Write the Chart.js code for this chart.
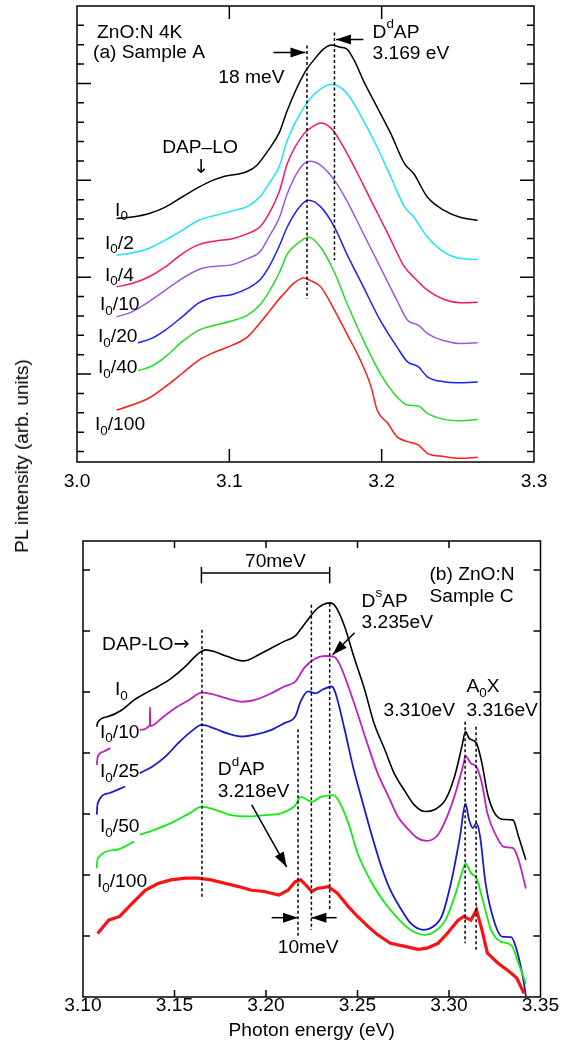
<!DOCTYPE html>
<html>
<head>
<meta charset="utf-8">
<script src="https://cdn.jsdelivr.net/npm/chart.js@4.4.0/dist/chart.umd.min.js"></script>
<style>
  html, body { margin: 0; padding: 0; background: #fff; }
  body { width: 571px; height: 1049px; position: relative; overflow: hidden; font-family: "Liberation Sans", Arial, sans-serif; }
  #topChart { position: absolute; left: 0; top: 0; }
  #botChart { position: absolute; left: 0; top: 505px; }
  #yTitle { position: absolute; left: 22px; top: 456px; transform: translate(-50%, -50%) rotate(-90deg); font-size: 19px; white-space: nowrap; color: #000; }
</style>
</head>
<body>
<canvas id="topChart" width="571" height="505"></canvas>
<canvas id="botChart" width="571" height="544"></canvas>
<div id="yTitle">PL intensity (arb. units)</div>
<script>
// ---- (a) Sample A : [photon energy eV, intensity (offset, arb.)] ----
const topI0 = [[3.026,8.03],[3.036,8.11],[3.047,8.28],[3.058,8.62],[3.069,9.14],[3.080,9.65],[3.089,10.0],[3.097,10.21],[3.111,10.43],[3.118,10.77],[3.126,11.6],[3.133,12.5],[3.138,13.61],[3.149,15.5],[3.156,16.27],[3.162,16.79],[3.167,16.99],[3.173,16.87],[3.177,16.79],[3.182,16.19],[3.188,15.15],[3.197,13.78],[3.206,12.41],[3.215,10.86],[3.221,10.35],[3.230,9.14],[3.241,8.45],[3.252,8.08],[3.263,7.94]];
const topI0_2 = [[3.026,6.13],[3.036,6.25],[3.047,6.48],[3.058,6.91],[3.069,7.42],[3.080,7.94],[3.091,8.20],[3.102,8.42],[3.112,8.66],[3.120,9.14],[3.126,9.83],[3.133,10.77],[3.138,12.06],[3.149,13.78],[3.156,14.47],[3.164,14.90],[3.168,14.95],[3.174,14.73],[3.179,14.3],[3.188,13.09],[3.197,11.72],[3.206,10.17],[3.215,8.63],[3.221,8.11],[3.230,7.08],[3.241,6.3],[3.252,5.96],[3.263,5.91]];
const topI0_4 = [[3.026,4.50],[3.036,4.67],[3.047,5.01],[3.058,5.53],[3.069,6.21],[3.080,6.68],[3.091,6.87],[3.102,6.99],[3.112,7.25],[3.120,7.59],[3.126,8.28],[3.133,9.48],[3.138,10.86],[3.149,12.41],[3.156,12.84],[3.160,12.96],[3.167,12.67],[3.173,11.99],[3.182,10.69],[3.193,8.97],[3.204,7.25],[3.215,5.53],[3.221,5.01],[3.230,4.33],[3.241,3.85],[3.252,3.68],[3.263,3.71]];
const topI0_10 = [[3.026,2.95],[3.036,3.21],[3.047,3.73],[3.058,4.33],[3.069,4.93],[3.080,5.40],[3.091,5.57],[3.102,5.65],[3.112,5.96],[3.120,6.3],[3.126,7.08],[3.133,8.11],[3.138,9.31],[3.147,10.69],[3.153,10.98],[3.160,10.77],[3.169,10.0],[3.177,8.97],[3.188,7.25],[3.199,5.53],[3.210,3.81],[3.217,2.78],[3.224,2.53],[3.230,2.10],[3.241,1.72],[3.252,1.58],[3.263,1.61]];
const topI0_20 = [[3.040,1.61],[3.049,1.84],[3.058,2.27],[3.069,2.95],[3.080,3.68],[3.091,3.99],[3.102,4.11],[3.112,4.42],[3.120,4.85],[3.126,5.53],[3.133,6.65],[3.138,7.59],[3.147,8.71],[3.152,8.97],[3.160,8.63],[3.169,7.59],[3.177,6.22],[3.188,4.5],[3.199,2.78],[3.210,1.4],[3.217,0.63],[3.224,0.38],[3.230,-0.14],[3.241,-0.40],[3.252,-0.45],[3.263,-0.41]];
const topI0_40 = [[3.040,0.17],[3.049,0.41],[3.058,0.89],[3.069,1.67],[3.080,2.27],[3.091,2.53],[3.102,2.75],[3.112,3.04],[3.120,3.56],[3.126,4.24],[3.133,5.27],[3.138,6.19],[3.147,6.87],[3.152,7.08],[3.160,6.53],[3.169,5.24],[3.177,3.69],[3.188,1.75],[3.199,0.04],[3.210,-1.17],[3.217,-1.6],[3.224,-1.65],[3.230,-2.03],[3.241,-2.34],[3.252,-2.41],[3.263,-2.34]];
const topI0_100 = [[3.026,-1.86],[3.036,-1.60],[3.047,-1.25],[3.058,-0.65],[3.069,0.03],[3.080,0.72],[3.091,1.15],[3.102,1.49],[3.112,1.92],[3.119,2.53],[3.126,3.21],[3.132,3.81],[3.136,4.16],[3.142,4.67],[3.149,4.96],[3.153,4.84],[3.160,4.5],[3.169,3.3],[3.177,2.1],[3.186,0.72],[3.193,-0.65],[3.197,-1.86],[3.204,-2.54],[3.210,-3.23],[3.217,-3.49],[3.224,-3.66],[3.230,-4.09],[3.241,-4.26],[3.252,-4.35],[3.263,-4.3]];
const topDashA = [[3.151,16.96],[3.151,3.87]];
const topDashB = [[3.169,17.63],[3.169,5.88]];

const topXLabels = [3.0, 3.1, 3.2, 3.3];
const topXTicks = [3.1, 3.2];
const topYTicks = [-4,-3,-2,-1,0,1,2,3,4,5,6,7,8,9,10,11,12,13,14,15,16,17,18];
const topYMajor = [0, 5, 10, 15];

// ---- (b) Sample C ----
const botI0 = [[3.1075,4.43],[3.108,4.50],[3.114,4.60],[3.121,4.70],[3.128,4.87],[3.136,5.01],[3.141,5.09],[3.148,5.22],[3.156,5.42],[3.163,5.63],[3.167,5.69],[3.172,5.66],[3.179,5.58],[3.187,5.51],[3.190,5.52],[3.196,5.61],[3.203,5.72],[3.210,5.83],[3.216,5.92],[3.220,6.07],[3.224,6.23],[3.227,6.34],[3.231,6.43],[3.235,6.46],[3.238,6.40],[3.243,6.07],[3.248,5.58],[3.254,5.03],[3.259,4.49],[3.265,4.05],[3.270,3.67],[3.276,3.37],[3.281,3.15],[3.287,3.04],[3.292,3.07],[3.298,3.23],[3.303,3.61],[3.307,4.10],[3.309,4.35],[3.311,4.24],[3.315,4.16],[3.318,3.83],[3.321,3.34],[3.325,3.01],[3.330,2.91],[3.335,2.90],[3.338,2.63],[3.342,2.25]];
const botI0_10 = [[3.1075,3.80],[3.108,3.93],[3.111,4.02],[3.115,4.08],[3.120,null],[3.131,4.38],[3.1365,4.46],[3.1366,4.75],[3.1368,4.44],[3.143,4.57],[3.150,4.73],[3.158,4.87],[3.165,4.99],[3.170,4.97],[3.178,4.90],[3.187,4.84],[3.194,4.87],[3.203,4.98],[3.210,5.09],[3.216,5.17],[3.221,5.40],[3.227,5.55],[3.232,5.59],[3.237,5.58],[3.240,5.47],[3.245,5.09],[3.250,4.65],[3.256,4.10],[3.261,3.67],[3.267,3.28],[3.272,2.96],[3.278,2.74],[3.283,2.60],[3.288,2.56],[3.294,2.66],[3.299,2.96],[3.304,3.39],[3.308,3.83],[3.309,3.95],[3.312,3.83],[3.315,3.77],[3.318,3.50],[3.321,3.01],[3.326,2.63],[3.330,2.46],[3.335,2.44],[3.338,2.25],[3.342,1.78]];
const botI0_25 = [[3.1075,2.99],[3.108,3.17],[3.114,3.34],[3.123,3.45],[3.127,null],[3.131,3.67],[3.138,3.78],[3.145,3.94],[3.152,4.16],[3.159,4.35],[3.165,4.46],[3.172,4.40],[3.179,4.32],[3.187,4.27],[3.194,4.30],[3.203,4.38],[3.210,4.49],[3.216,4.60],[3.219,4.85],[3.223,5.01],[3.227,4.98],[3.231,5.04],[3.236,5.09],[3.238,4.98],[3.243,4.38],[3.248,3.72],[3.252,3.28],[3.258,2.63],[3.263,2.14],[3.268,1.75],[3.274,1.43],[3.279,1.21],[3.286,1.10],[3.290,1.13],[3.296,1.32],[3.301,1.86],[3.306,2.63],[3.309,3.17],[3.311,2.90],[3.313,2.77],[3.315,2.85],[3.317,2.63],[3.320,1.86],[3.325,1.21],[3.329,0.99],[3.334,0.98],[3.337,0.77],[3.341,0.22],[3.342,0.01]];
const botI0_50 = [[3.1075,2.11],[3.108,2.27],[3.118,2.41],[3.128,2.55],[3.129,null],[3.131,2.66],[3.139,2.74],[3.148,2.85],[3.158,3.01],[3.165,3.12],[3.172,3.07],[3.181,2.98],[3.190,2.96],[3.199,2.98],[3.208,3.01],[3.216,3.14],[3.219,3.28],[3.225,3.20],[3.230,3.28],[3.237,3.31],[3.240,3.20],[3.245,2.85],[3.250,2.36],[3.258,1.86],[3.265,1.54],[3.272,1.29],[3.279,1.10],[3.287,1.02],[3.292,1.07],[3.298,1.26],[3.303,1.64],[3.307,2.03],[3.309,2.19],[3.312,2.03],[3.315,1.95],[3.318,1.64],[3.323,1.10],[3.328,0.91],[3.334,0.85],[3.338,0.55],[3.342,0.22]];
const botI0_100 = [[3.108,1.04],[3.114,1.26],[3.120,1.32],[3.127,1.54],[3.134,1.75],[3.141,1.86],[3.148,1.92],[3.156,1.95],[3.163,1.95],[3.170,1.92],[3.178,1.86],[3.185,1.81],[3.192,1.75],[3.199,1.73],[3.207,1.67],[3.212,1.75],[3.216,1.89],[3.219,1.92],[3.221,1.86],[3.225,1.73],[3.228,1.78],[3.234,1.81],[3.239,1.70],[3.245,1.48],[3.250,1.32],[3.256,1.15],[3.261,1.02],[3.268,0.88],[3.276,0.83],[3.283,0.78],[3.288,0.80],[3.294,0.88],[3.299,1.04],[3.305,1.26],[3.308,1.32],[3.312,1.26],[3.315,1.43],[3.318,1.10],[3.321,0.72],[3.327,0.55],[3.332,0.44],[3.337,0.31],[3.341,0.06]];
const botDashes = [
  [[3.165,6.02],[3.165,1.62]],
  [[3.2175,4.39],[3.2175,0.99]],
  [[3.2248,6.43],[3.2248,1.10]],
  [[3.2348,6.45],[3.2348,1.43]],
  [[3.3088,4.51],[3.3088,0.88]],
  [[3.3148,4.43],[3.3148,0.77]]
];

const botXLabels = [3.10, 3.15, 3.20, 3.25, 3.30, 3.35];
const botXTicks = [3.15, 3.20, 3.25, 3.30];
const botYTicks = [1, 2, 3, 4, 5, 6, 7];

// ---- annotations (data coordinates) ----
const topLabels = [
  {text: 'ZnO:N 4K', x: 3.0132, y: 17.63},
  {text: '(a) Sample A', x: 3.0105, y: 16.6},
  {text: '18 meV', x: 3.0928, y: 15.31},
  {text: 'DAP\u2013LO', x: 3.0559, y: 11.7},
  {text: '\u2193', x: 3.0761, y: 10.62},
  {text: 'I_0', x: 3.025, y: 8.45},
  {text: 'I_0/2', x: 3.0184, y: 6.75},
  {text: 'I_0/4', x: 3.0184, y: 5.1},
  {text: 'I_0/10', x: 3.0151, y: 3.56},
  {text: 'I_0/20', x: 3.0138, y: 1.91},
  {text: 'I_0/40', x: 3.0138, y: 0.31},
  {text: 'I_0/100', x: 3.0118, y: -2.63},
  {text: 'D^dAP', x: 3.194, y: 17.63},
  {text: '3.169 eV', x: 3.194, y: 16.55}
];
const topArrows = [
  {x1: 3.129, y1: 16.6, x2: 3.150, y2: 16.6, head: true},
  {x1: 3.188, y1: 17.27, x2: 3.170, y2: 17.27, head: true}
];
const botLabels = [
  {text: '70meV', x: 3.1885, y: 7.13},
  {text: 'DAP-LO\u2192', x: 3.1104, y: 5.77},
  {text: 'I_0', x: 3.1175, y: 5.03},
  {text: 'I_0/10', x: 3.1093, y: 4.34},
  {text: 'I_0/25', x: 3.1093, y: 3.69},
  {text: 'I_0/50', x: 3.1093, y: 2.79},
  {text: 'I_0/100', x: 3.1076, y: 1.89},
  {text: 'D^dAP', x: 3.1737, y: 3.72},
  {text: '3.218eV', x: 3.1737, y: 3.36},
  {text: '10meV', x: 3.2064, y: 0.80},
  {text: '(b) ZnO:N', x: 3.2893, y: 6.92},
  {text: 'Sample C', x: 3.2893, y: 6.56},
  {text: 'D^sAP', x: 3.2522, y: 6.48},
  {text: '3.235eV', x: 3.2522, y: 6.13},
  {text: '3.310eV', x: 3.2642, y: 4.70},
  {text: 'A_0X', x: 3.3095, y: 5.08},
  {text: '3.316eV', x: 3.3095, y: 4.70}
];
const botArrows = [
  {x1: 3.1922, y1: 3.15, x2: 3.2113, y2: 2.13, head: true},
  {x1: 3.2031, y1: 1.30, x2: 3.2175, y2: 1.30, head: true},
  {x1: 3.2386, y1: 1.30, x2: 3.2248, y2: 1.30, head: true},
  {x1: 3.2484, y1: 5.97, x2: 3.2364, y2: 5.61, head: true},
  {x1: 3.1647, y1: 6.95, x2: 3.2348, y2: 6.95},
  {x1: 3.1647, y1: 7.05, x2: 3.1647, y2: 6.78},
  {x1: 3.2348, y1: 7.05, x2: 3.2348, y2: 6.78}
];

const FONT = '"Liberation Sans", Arial, sans-serif';
const FS = 19.2;

// text with _x subscript and ^x superscript; arrows come from DejaVu
function richText(ctx, str, x, y, size) {
  let cx = x;
  for (let i = 0; i < str.length; i++) {
    let ch = str[i], dy = 0, fs = size, fam = FONT;
    if ((ch === '_' || ch === '^') && i + 1 < str.length) {
      dy = ch === '_' ? size * 0.32 : -size * 0.42;
      fs = size * 0.7;
      ch = str[++i];
    }
    if (ch === '\u2192' || ch === '\u2193') fam = '"DejaVu Sans"';
    ctx.font = fs + 'px ' + fam;
    ctx.fillText(ch, cx, y + dy);
    cx += ctx.measureText(ch).width;
  }
}

function arrowHead(ctx, x1, y1, x2, y2, len, half) {
  const a = Math.atan2(y2 - y1, x2 - x1);
  const bx = x2 - len * Math.cos(a), by = y2 - len * Math.sin(a);
  ctx.beginPath();
  ctx.moveTo(x2, y2);
  ctx.lineTo(bx + half * Math.sin(a), by - half * Math.cos(a));
  ctx.lineTo(bx - half * Math.sin(a), by + half * Math.cos(a));
  ctx.closePath();
  ctx.fill();
}

// frame, inward ticks, arrows and labels
const paperPlugin = {
  id: 'paper',
  afterDatasetsDraw(chart, args, opts) {
    const { ctx, chartArea: a } = chart;
    const x = chart.scales.x, y = chart.scales.y;
    ctx.save();
    ctx.strokeStyle = '#000';
    ctx.fillStyle = '#000';
    ctx.lineWidth = 1.5;
    ctx.setLineDash([]);
    ctx.strokeRect(a.left, a.top, a.right - a.left, a.bottom - a.top);

    ctx.beginPath();
    opts.yTicks.forEach(v => {
      const py = y.getPixelForValue(v);
      const len = opts.yMajor.includes(v) ? opts.majorLen : opts.minorLen;
      ctx.moveTo(a.left, py); ctx.lineTo(a.left + len, py);
      ctx.moveTo(a.right, py); ctx.lineTo(a.right - len, py);
    });
    opts.xTicks.forEach(v => {
      const px = x.getPixelForValue(v);
      ctx.moveTo(px, a.bottom); ctx.lineTo(px, a.bottom - opts.xLen);
      ctx.moveTo(px, a.top); ctx.lineTo(px, a.top + opts.xLen);
    });
    ctx.stroke();

    opts.arrows.forEach(ar => {
      const x1 = x.getPixelForValue(ar.x1), y1 = y.getPixelForValue(ar.y1);
      const x2 = x.getPixelForValue(ar.x2), y2 = y.getPixelForValue(ar.y2);
      ctx.beginPath();
      ctx.moveTo(x1, y1);
      ctx.lineTo(x2, y2);
      ctx.stroke();
      if (ar.head) arrowHead(ctx, x1, y1, x2, y2, 15, 5);
    });

    ctx.textBaseline = 'middle';
    ctx.textAlign = 'left';
    opts.labels.forEach(l => {
      richText(ctx, l.text, x.getPixelForValue(l.x), y.getPixelForValue(l.y), FS);
    });
    ctx.restore();
  }
};

const toPts = arr => arr.map(p => ({ x: p[0], y: p[1] }));

function curve(arr, color, w, smooth) {
  const ds = { data: toPts(arr), borderColor: color, borderWidth: w, pointRadius: 0, fill: false, spanGaps: false };
  if (smooth) ds.cubicInterpolationMode = 'monotone';
  else ds.tension = 0;
  return ds;
}
function dashed(arr) {
  return { data: toPts(arr), borderColor: '#000', borderWidth: 1.5, borderDash: [3, 2.5], pointRadius: 0, fill: false };
}

function makeOptions(cfg) {
  return {
    responsive: false,
    animation: false,
    layout: { padding: cfg.padding },
    plugins: {
      legend: { display: false },
      tooltip: { enabled: false },
      paper: cfg.paper
    },
    scales: {
      x: {
        type: 'linear', min: cfg.xMin, max: cfg.xMax,
        grid: { display: false, drawTicks: false },
        border: { display: false },
        ticks: {
          color: '#000', font: { family: FONT, size: FS }, padding: cfg.tickPad,
          maxRotation: 0, autoSkip: false,
          callback: v => Number(v).toFixed(cfg.digits)
        },
        afterBuildTicks: s => { s.ticks = cfg.xLabels.map(v => ({ value: v })); },
        afterFit: s => { s.height = cfg.xHeight; },
        title: cfg.xTitle
      },
      y: {
        type: 'linear', min: cfg.yMin, max: cfg.yMax,
        grid: { display: false, drawTicks: false },
        border: { display: false },
        ticks: { display: false },
        afterFit: s => { s.width = cfg.yWidth; }
      }
    }
  };
}

new Chart(document.getElementById('topChart'), {
  type: 'line',
  data: {
    datasets: [
      dashed(topDashA),
      dashed(topDashB),
      curve(topI0, '#000000', 1.5, true),
      curve(topI0_2, '#22e0ff', 1.5, true),
      curve(topI0_4, '#ff1464', 1.5, true),
      curve(topI0_10, '#9b59e0', 1.5, true),
      curve(topI0_20, '#1e1eff', 1.5, true),
      curve(topI0_40, '#22dd22', 1.5, true),
      curve(topI0_100, '#ff1a1a', 1.5, true)
    ]
  },
  options: makeOptions({
    padding: { top: 6, right: 37, left: 0, bottom: 0 },
    xMin: 3.0, xMax: 3.3, yMin: -4.54, yMax: 19.0,
    xLabels: topXLabels, digits: 1, tickPad: 8, xHeight: 43, yWidth: 77,
    xTitle: { display: false },
    paper: {
      yTicks: topYTicks, yMajor: topYMajor, majorLen: 14, minorLen: 7,
      xTicks: topXTicks, xLen: 13,
      arrows: topArrows, labels: topLabels
    }
  }),
  plugins: [paperPlugin]
});

new Chart(document.getElementById('botChart'), {
  type: 'line',
  data: {
    datasets: [
      ...botDashes.map(dashed),
      curve(botI0_100, '#ff1010', 3.2, false),
      curve(botI0_50, '#10ee10', 1.8, true),
      curve(botI0_25, '#1a1acc', 1.8, true),
      curve(botI0_10, '#c020c0', 1.8, true),
      curve(botI0, '#000000', 1.6, true)
    ]
  },
  options: makeOptions({
    padding: { top: 36, right: 30.5, left: 0, bottom: 0 },
    xMin: 3.10, xMax: 3.35, yMin: 0, yMax: 7.475,
    xLabels: botXLabels, digits: 2, tickPad: -3, xHeight: 52, yWidth: 83,
    xTitle: { display: true, text: 'Photon energy (eV)', color: '#000', font: { family: FONT, size: FS }, padding: { top: 0, bottom: 7 } },
    paper: {
      yTicks: botYTicks, yMajor: botYTicks, majorLen: 7, minorLen: 7,
      xTicks: botXTicks, xLen: 7,
      arrows: botArrows, labels: botLabels
    }
  }),
  plugins: [paperPlugin]
});
</script>
</body>
</html>
